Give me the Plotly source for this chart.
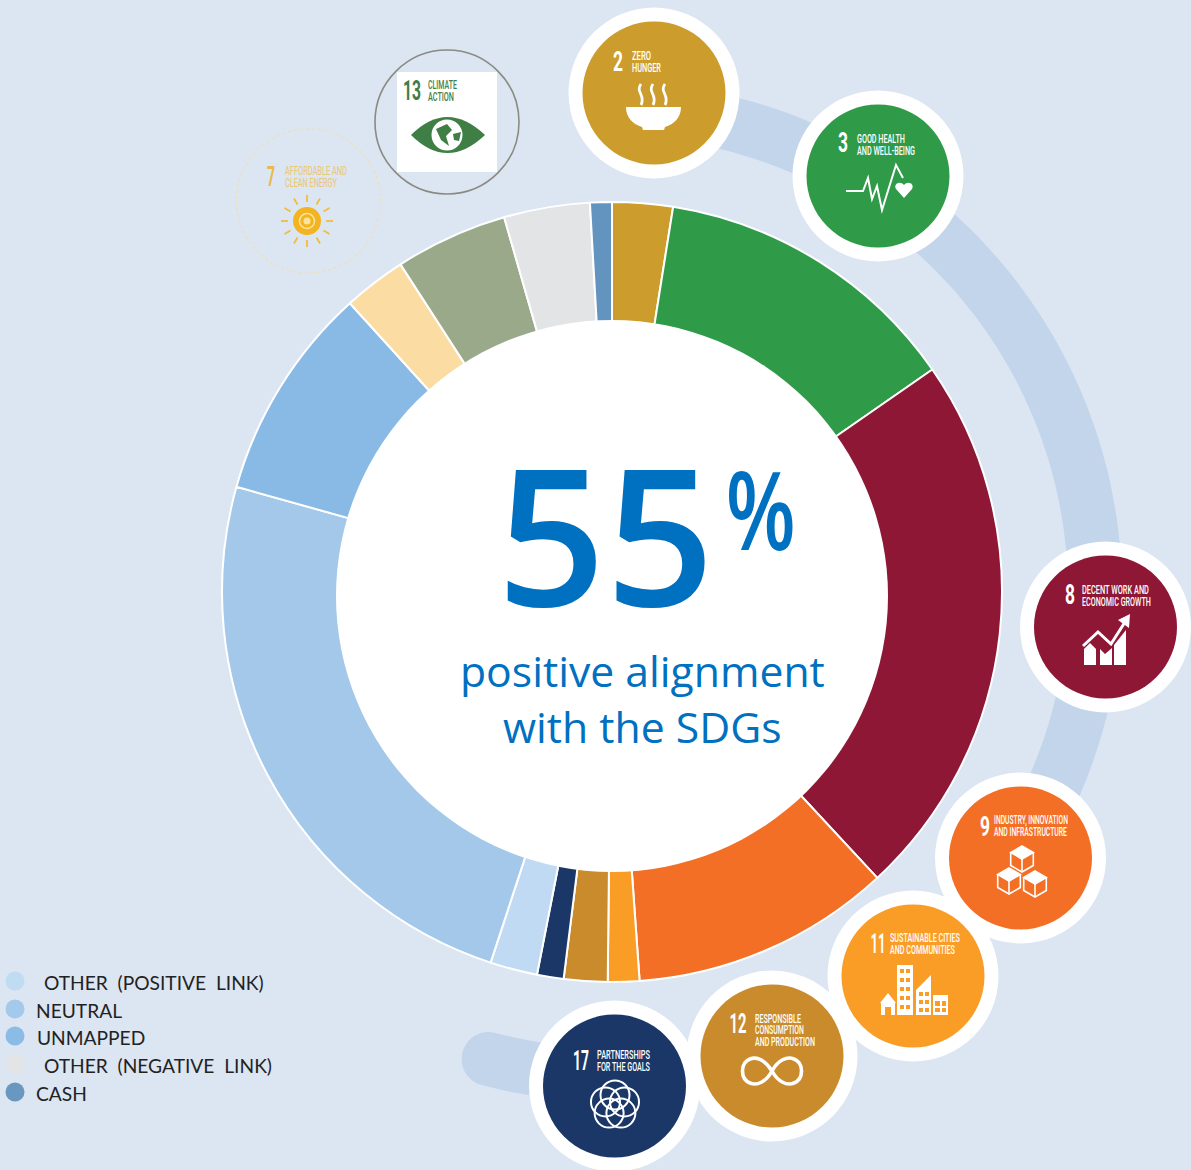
import json
import numpy as np
import plotly.graph_objects as go

W, H = 1191, 1170
BG = "#DCE5F2"
BAND = "#C3D5EB"
BLUE = "#0070C0"

# ---- chart data ----
slice_labels = ["SDG 2", "SDG 3", "SDG 8", "SDG 9", "SDG 11", "SDG 12", "SDG 17",
                "Other (positive link)", "Neutral", "Unmapped", "SDG 7", "SDG 13",
                "Other (negative link)", "Cash"]
slice_values = [2.5, 12.8, 22.7, 10.75, 1.3, 1.8, 1.1, 1.95, 24.25, 8.9, 2.6, 4.65, 3.55, 0.9]
slice_colors = ["#CC9D2C", "#2F9B49", "#8E1736", "#F36F25", "#F99D26", "#C98B2B", "#1A3767",
                "#BFDAF2", "#A3C8EA", "#88BAE5", "#FBDDA3", "#9AA98A", "#E3E4E6", "#6394C0"]

legend_labels = ["\u00a0OTHER\u00a0 (POSITIVE\u00a0 LINK)", "NEUTRAL", "UNMAPPED",
                 "\u00a0OTHER\u00a0 (NEGATIVE\u00a0 LINK)", "CASH"]
legend_colors = ["#BFDCF3", "#A3C9EB", "#8BBCE6", "#E3E4E6", "#6A97C0"]
legend_y = [981, 1009, 1036, 1064, 1092]
legend_text_x = [38.5, 36, 37, 38.5, 36]

# badge: number, title lines, centre, colour
badge_nums = ["2", "3", "8", "9", "11", "12", "17"]
badge_titles = [["ZERO", "HUNGER"], ["GOOD HEALTH", "AND WELL-BEING"],
                ["DECENT WORK AND", "ECONOMIC GROWTH"], ["INDUSTRY, INNOVATION", "AND INFRASTRUCTURE"],
                ["SUSTAINABLE CITIES", "AND COMMUNITIES"], ["RESPONSIBLE", "CONSUMPTION", "AND PRODUCTION"],
                ["PARTNERSHIPS", "FOR THE GOALS"]]
badge_colors = ["#CC9D2C", "#2F9B49", "#8E1736", "#F36F25", "#F99D26", "#C98B2B", "#1A3767"]
badge_cx = [654, 878, 1105.5, 1020.5, 913, 772, 614.5]
badge_cy = [93, 176, 627, 858, 976, 1056, 1086]
num_x = [618, 843, 1070, 985, 878, 738, 581]
num_y = [61, 142, 594, 826, 943, 1023, 1060]
title_x = [632, 857, 1082, 994, 890, 755, 597]
title_y = [[55, 67], [138, 150], [589, 601], [819, 831], [937, 949], [1018, 1029, 1041], [1054, 1066]]

# printed widths of the condensed lettering
squeeze = {"ZERO": 19, "HUNGER": 29, "GOOD HEALTH": 48, "AND WELL-BEING": 58, "DECENT WORK AND": 67,
           "ECONOMIC GROWTH": 69, "INDUSTRY, INNOVATION": 74, "AND INFRASTRUCTURE": 73,
           "SUSTAINABLE CITIES": 70, "AND COMMUNITIES": 65, "RESPONSIBLE": 46, "CONSUMPTION": 49,
           "AND PRODUCTION": 60, "PARTNERSHIPS": 53, "FOR THE GOALS": 53, "CLIMATE": 29, "ACTION": 26,
           "AFFORDABLE AND": 62, "CLEAN ENERGY": 52, "2": 10, "3": 10, "8": 10, "9": 10, "11": 15, "12": 17,
           "17": 16, "13": 18, "7": 8, "%": 70}

# ---- geometry of the ring ----
CX, CY, R = 612, 592, 390
shapes, ann = [], []


def circle(cx, cy, r, fill=None, line=None, lw=0, dash=None):
    ln = dict(width=lw, color=line or "rgba(0,0,0,0)")
    if dash:
        ln["dash"] = dash
    shapes.append(dict(type="circle", xref="x", yref="y", x0=cx - r, x1=cx + r, y0=cy - r, y1=cy + r,
                       fillcolor=fill or "rgba(0,0,0,0)", line=ln))


def path(d, fill=None, line=None, lw=0, layer="above"):
    shapes.append(dict(type="path", xref="x", yref="y", path=d, layer=layer,
                       fillcolor=fill or "rgba(0,0,0,0)",
                       line=dict(width=lw, color=line or "rgba(0,0,0,0)")))


def poly(pts, close=True):
    return "M" + " L".join(f"{x:.1f},{y:.1f}" for x, y in pts) + (" Z" if close else "")


def rect(x0, y0, x1, y1, fill):
    path(poly([(x0, y0), (x1, y0), (x1, y1), (x0, y1)]), fill=fill)


def text(x, y, s, size, color, family="Roboto", anchor="left", weight=None):
    f = dict(size=size, color=color, family=family)
    if weight:
        f["weight"] = weight
    ann.append(dict(x=x, y=y, xref="x", yref="y", text=s, showarrow=False,
                    xanchor=anchor, yanchor="middle", align=anchor,
                    font=f, borderpad=0, borderwidth=0))


# decorative band behind the badges (clockwise angle from 12 o'clock)
def rad_pt(r, a):
    return CX + r * np.sin(a), CY - r * np.cos(a)


a0, a1 = np.radians(8), np.radians(194.8)
r_in, r_out = 456, 510
ang = np.linspace(a0, a1, 160)
outer = [rad_pt(r_out, a) for a in ang]
inner = [rad_pt(r_in, a) for a in ang[::-1]]
rm, rc = (r_in + r_out) / 2, (r_out - r_in) / 2
cap_c = rad_pt(rm, a1)
cap = []
for t in np.linspace(0, np.pi, 24):
    ox, oy = np.sin(a1), -np.cos(a1)      # radial direction
    tx, ty = np.cos(a1), np.sin(a1)       # tangent direction
    cap.append((cap_c[0] + rc * (np.cos(t) * ox + np.sin(t) * tx),
                cap_c[1] + rc * (np.cos(t) * oy + np.sin(t) * ty)))
path(poly(outer + cap + inner), fill=BAND)

# white centre
circle(612, 596, 276, fill="#FFFFFF")

# ---- badges ----
for i in range(len(badge_nums)):
    circle(badge_cx[i], badge_cy[i], 85.5, fill="#FFFFFF")
    circle(badge_cx[i], badge_cy[i], 71.5, fill=badge_colors[i])
    text(num_x[i], num_y[i], badge_nums[i], 28, "#FFFFFF", anchor="center", weight=700)
    for line_txt, ly in zip(badge_titles[i], title_y[i]):
        text(title_x[i], ly, line_txt, 13, "#FFFFFF", weight=500)

WH = "#FFFFFF"
# 2: bowl and steam
path("M626,107 L681,107 C681,118 674,124 665,127 L664,130 L643,130 L642,127 C633,124 626,118 626,107 Z", fill=WH)
for sx in (641, 653, 665):
    path(f"M{sx},84 C{sx-6},92 {sx+5},95 {sx},105", line=WH, lw=2.8)
# 3: pulse and heart
path(poly([(846, 191), (863, 191), (868, 178), (872, 199), (877, 186), (882, 210), (896, 165), (903, 178)], False),
     line=WH, lw=2)
path("M904,198 L896,189 C893,184 900,180 904,185 C908,180 915,184 912,189 Z", fill=WH)
# 8: rising bars and arrow
path(poly([(1084, 665), (1084, 649), (1090, 643), (1096, 649), (1096, 665)]), fill=WH)
path(poly([(1100, 665), (1100, 649), (1105, 654), (1112, 648), (1112, 665)]), fill=WH)
path(poly([(1114, 665), (1114, 645), (1126, 630), (1126, 665)]), fill=WH)
path(poly([(1083, 646), (1098, 632), (1111, 644), (1125, 622)], False), line=WH, lw=3)
path(poly([(1130, 614), (1129, 628), (1118, 620)]), fill=WH)


# 9: three cubes
def cube(cx, cy, s, fill_top=True):
    top = [(cx, cy - s), (cx + s * .87, cy - s / 2), (cx, cy), (cx - s * .87, cy - s / 2)]
    path(poly(top), fill=WH if fill_top else None, line=WH, lw=1.6)
    path(poly([(cx - s * .87, cy - s / 2), (cx - s * .87, cy + s / 2), (cx, cy + s), (cx + s * .87, cy + s / 2),
               (cx + s * .87, cy - s / 2)], False), line=WH, lw=1.6)
    path(poly([(cx, cy), (cx, cy + s)], False), line=WH, lw=1.6)


cube(1022, 859, 13)
cube(1009, 881, 13)
cube(1035, 884, 13)

# 11: city
C11 = badge_colors[4]
path(poly([(880, 1003), (888, 993), (896, 1003)]), fill=WH)
rect(881, 1003, 895, 1015, WH)
rect(885, 1007, 891, 1015, C11)
rect(897, 965, 913, 1015, WH)
for wy in (969, 978, 987, 996, 1005):
    rect(900, wy, 904, wy + 4, C11)
    rect(906, wy, 910, wy + 4, C11)
path(poly([(916, 1015), (916, 990), (931, 975), (931, 1015)]), fill=WH)
for wy in (992, 1000, 1008):
    rect(919, wy, 923, wy + 4, C11)
    rect(925, wy, 929, wy + 4, C11)
rect(933, 995, 948, 1015, WH)
rect(935, 1001, 940, 1006, C11)
rect(942, 1001, 946, 1006, C11)
rect(935, 1008, 940, 1012, C11)
rect(942, 1008, 946, 1012, C11)
# 12: infinity
path("M772,1071 C764,1058 755,1057 750,1059 C740,1063 740,1079 750,1083 C757,1086 766,1082 772,1071 "
     "C778,1060 787,1056 794,1059 C804,1063 804,1079 794,1083 C787,1086 778,1082 772,1071", line=WH, lw=3.6)
# 17: five interlaced rings
for k in range(5):
    a = np.radians(72 * k)
    circle(615 + 10 * np.sin(a), 1105 - 10 * np.cos(a), 14.5, line=WH, lw=2)

# 13: climate action
GREEN = "#3F7E44"
circle(447, 122, 72, line="#8B8B82", lw=1.6)
rect(397, 72, 497, 172, WH)
text(412, 90, "13", 28, GREEN, anchor="center", weight=700)
text(428, 84, "CLIMATE", 13, GREEN, weight=500)
text(428, 96, "ACTION", 13, GREEN, weight=500)
path("M411,135 Q447,99 485,135 Q447,171 411,135 Z", fill=GREEN)
circle(447, 135, 15.5, fill=WH)
path("M436,129 L447,124 L452,130 L446,136 L449,146 L441,140 Z", fill=GREEN)
path("M453,134 L461,132 L459,141 L454,140 Z", fill=GREEN)

# 7: clean energy
PALE = "#E9C674"
SUN = "#F4B41F"
circle(308.5, 201, 72, line="#EDE0BC", lw=1.5, dash="dot")
text(271, 176, "7", 28, "#E9B949", anchor="center", weight=700)
text(285, 170, "AFFORDABLE AND", 13, PALE)
text(285, 182, "CLEAN ENERGY", 13, PALE)
circle(307, 221, 14, fill=SUN)
circle(307, 221, 7.5, line="#FBE3A0", lw=1.6)
circle(307, 221, 3.5, fill="#FBE3A0")
for k in range(12):
    a = np.radians(30 * k)
    p0, p1 = (307 + 19 * np.sin(a), 221 - 19 * np.cos(a)), (307 + 26 * np.sin(a), 221 - 26 * np.cos(a))
    path(poly([p0, p1], False), line="#EFBE3E", lw=1.8)

# ---- centre text ----
CF = "Open Sans"
text(605, 532, "55", 190, BLUE, family=CF, anchor="center", weight=600)
text(760, 508, "%", 108, BLUE, family=CF, anchor="center", weight=600)
text(642, 670, "positive alignment", 42.7, BLUE, family=CF, anchor="center")
text(642, 726, "with the SDGs", 42.7, BLUE, family=CF, anchor="center")

# ---- legend text ----
for lbl, ly, lx in zip(legend_labels, legend_y, legend_text_x):
    text(lx, ly + 1.5, lbl, 19.2, "#222222", family="Lato")

# ---- traces ----
fig = go.Figure()
fig.add_trace(go.Scatter(x=[15] * len(legend_y), y=legend_y, mode="markers", hoverinfo="skip", showlegend=False,
                         marker=dict(size=19, color=legend_colors, line=dict(width=0))))
fig.add_trace(go.Pie(labels=slice_labels, values=slice_values, hole=0.6, sort=False, direction="clockwise",
                     rotation=0, textinfo="none", hoverinfo="label+value", showlegend=False,
                     marker=dict(colors=slice_colors, line=dict(color="#FFFFFF", width=2)),
                     domain=dict(x=[(CX - R) / W, (CX + R) / W], y=[1 - (CY + R) / H, 1 - (CY - R) / H])))

fig.update_layout(width=W, height=H, margin=dict(l=0, r=0, t=0, b=0), paper_bgcolor=BG, plot_bgcolor=BG,
                  showlegend=False, shapes=shapes, annotations=ann,
                  xaxis=dict(range=[0, W], visible=False, fixedrange=True, domain=[0, 1]),
                  yaxis=dict(range=[H, 0], visible=False, fixedrange=True, domain=[0, 1]))

js = """
document.body.style.margin='0';document.body.style.overflow='hidden';document.body.style.background='%s';
var SQ=%s;
function squeezeText(){document.querySelectorAll('.annotation-text').forEach(function(t){
  var k=t.textContent; if(SQ[k]===undefined||t.dataset.sq)return;
  var len=t.getComputedTextLength(); if(!len)return;
  var f=SQ[k]/len, x=parseFloat(t.getAttribute('x'))||0;
  var base=t.getAttribute('transform')||'';
  t.setAttribute('transform',base+' translate('+x+',0) scale('+f+',1) translate('+(-x)+',0)');
  t.dataset.sq='1';
});}
squeezeText();setTimeout(squeezeText,30);setTimeout(squeezeText,200);
""" % (BG, json.dumps(squeeze))
fig.write_html("out.html", config=dict(displayModeBar=False), post_script=js)
